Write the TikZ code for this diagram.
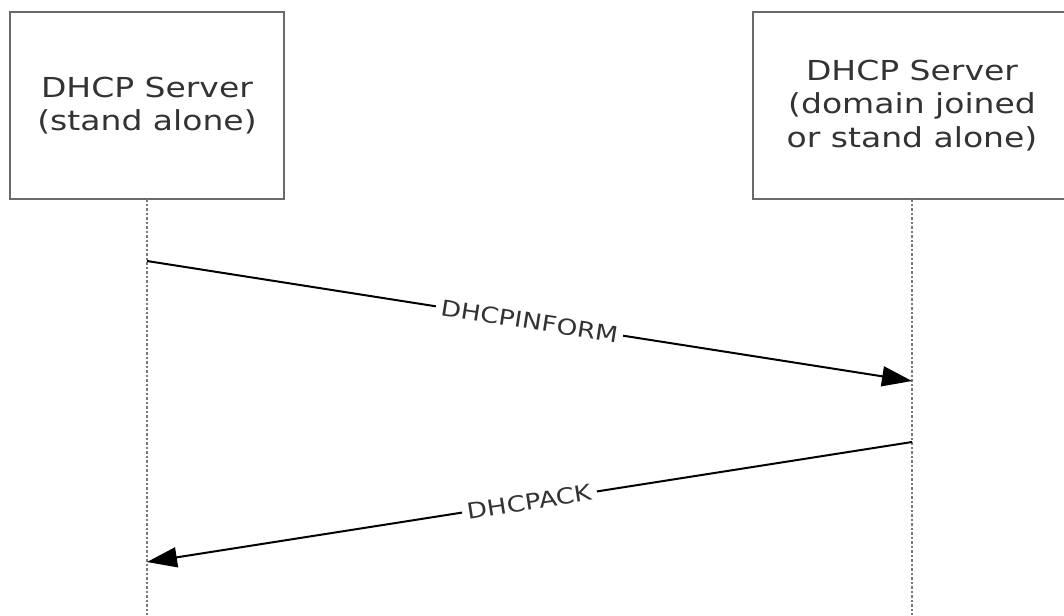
\documentclass[tikz,border=0pt]{standalone}
\usepackage{fontspec}
\setmainfont{DejaVu Sans}[FakeStretch=1.2]
\usetikzlibrary{positioning}
\usetikzlibrary{arrows.meta}
\definecolor{boxline}{HTML}{6A6A6A}
\definecolor{lifeline}{HTML}{7A7A7A}
\definecolor{txt}{HTML}{333333}
\tikzset{
  srv/.style={draw=boxline, line width=2.5pt, rectangle, outer sep=0pt,
    minimum height=187pt, align=center, text=txt,
    font=\fontsize{27.5}{33.5}\selectfont},
  life/.style={draw=lifeline, line width=2.5pt, dash pattern=on 2.5pt off 2pt},
  msg/.style={draw=black, line width=2pt, -{Triangle[length=30pt,width=20pt]}},
  lbl/.style={fill=white, sloped, midway, inner sep=5pt, text=txt,
    font=\fontsize{22}{26}\selectfont}
}
\begin{document}
\begin{tikzpicture}[x=1pt,y=-1pt]
\useasboundingbox (0,0) rectangle (1064,615);
\node[srv, minimum width=274pt](sa) at (147,105.5){DHCP Server\\(stand alone)};
\node[srv, minimum width=318pt, right = 469pt of sa](dj){DHCP Server\\(domain joined\\or stand alone)};
\coordinate (sa-end) at (sa.south |- 0,615);
\coordinate (dj-end) at (dj.south |- 0,615);
\path[life] (sa.south) -- (sa-end);
\path[life] (dj.south) -- (dj-end);
\coordinate (p1) at (sa.south |- 0,261);
\coordinate (p2) at (dj.south |- 0,381);
\coordinate (p3) at (dj.south |- 0,442);
\coordinate (p4) at (sa.south |- 0,562);
\path (p1) edge[msg] node[lbl]{DHCPINFORM} (p2);
\path (p3) edge[msg] node[lbl]{DHCPACK} (p4);
\end{tikzpicture}
\end{document}
